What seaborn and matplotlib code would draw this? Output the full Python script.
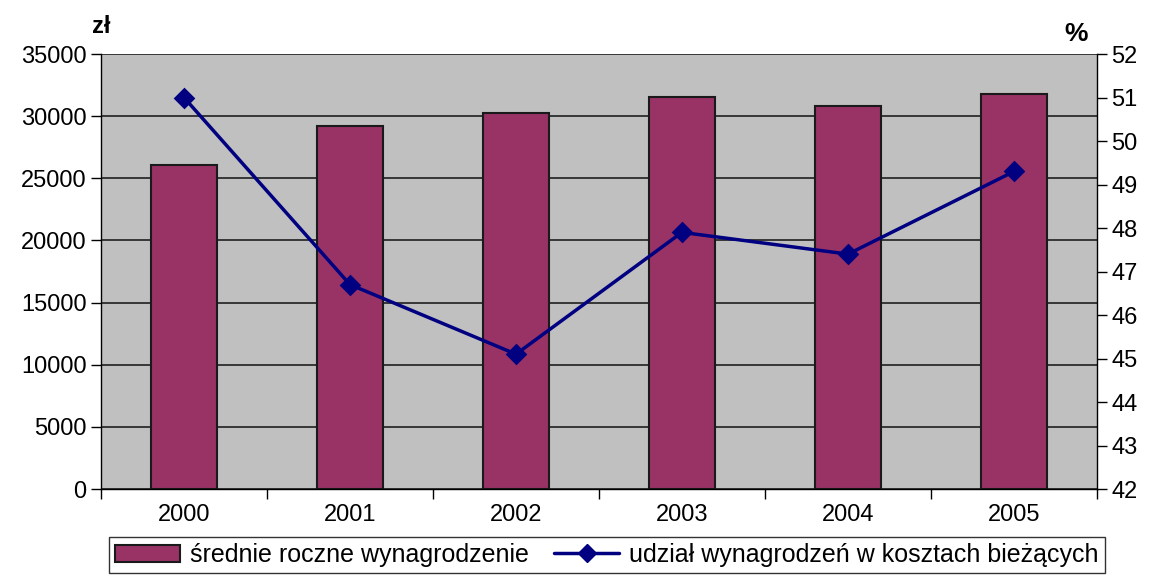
import numpy as np
import pandas as pd
import seaborn as sns
import matplotlib.pyplot as plt
from matplotlib.lines import Line2D
from matplotlib.patches import Patch

years = ['2000', '2001', '2002', '2003', '2004', '2005']
salary = [26100, 29200, 30250, 31550, 30850, 31800]
share = [51.0, 46.7, 45.1, 47.9, 47.4, 49.3]

bar_color = '#993366'
line_color = '#000080'

sns.set_theme(style='white')
plt.rcParams['font.family'] = ['Liberation Sans', 'DejaVu Sans']
plt.rcParams['text.color'] = 'black'
plt.rcParams['xtick.color'] = 'black'
plt.rcParams['ytick.color'] = 'black'

df = pd.DataFrame({'rok': years, 'wyn': salary, 'udz': share})

fig = plt.figure(figsize=(11.49, 5.79), dpi=100)
ax = fig.add_axes([0.0879, 0.1554, 0.8668, 0.7513])
ax.set_facecolor('#C0C0C0')

sns.barplot(data=df, x='rok', y='wyn', ax=ax, color=bar_color, width=0.4,
            edgecolor='#1a1a1a', linewidth=1.5, saturation=1)
ax.set_ylim(0, 35000)
ax.set_xlim(-0.5, 5.5)
ax.set_yticks(np.arange(0, 35001, 5000))
ax.yaxis.grid(True, color='#202020', linewidth=1.2)
ax.set_axisbelow(True)
ax.set_xlabel('')
ax.set_ylabel('')
# category separators as major ticks, year labels as minor ticks
ax.set_xticks(np.arange(-0.5, 6, 1), minor=False)
ax.set_xticklabels([])
ax.set_xticks(np.arange(6), minor=True)
ax.set_xticklabels(years, minor=True)
ax.tick_params(axis='x', which='major', bottom=True, direction='out', length=7, width=1)
ax.tick_params(axis='x', which='minor', bottom=True, length=0, labelsize=17, pad=11)
ax.tick_params(axis='y', left=True, direction='out', length=7, width=1, labelsize=17)
for side in ['left', 'bottom']:
    ax.spines[side].set_color('black')
    ax.spines[side].set_linewidth(1)
ax.spines['top'].set_visible(False)
ax.spines['right'].set_visible(False)

ax2 = ax.twinx()
sns.pointplot(data=df, x='rok', y='udz', ax=ax2, color=line_color, markers='D',
              markersize=9, linewidth=2.5)
ax2.set_ylim(42, 52)
ax2.set_xlim(-0.5, 5.5)
ax2.set_yticks(np.arange(42, 53, 1))
ax2.set_ylabel('')
ax2.set_xlabel('')
ax2.tick_params(axis='y', right=True, direction='out', length=7, width=1, labelsize=17)
ax2.tick_params(axis='x', bottom=False, labelbottom=False)
ax2.spines['right'].set_color('black')
ax2.spines['right'].set_linewidth(1)
for side in ['top', 'left', 'bottom']:
    ax2.spines[side].set_visible(False)

fig.text(0.080, 0.943, 'zł', fontsize=17, fontweight='bold')
fig.text(0.926, 0.93, '%', fontsize=19, fontweight='bold')

handles = [Patch(facecolor=bar_color, edgecolor='#1a1a1a', linewidth=1.5),
           Line2D([0], [0], color=line_color, linewidth=2.5, marker='D', markersize=9)]
labels = ['średnie roczne wynagrodzenie', 'udział wynagrodzeń w kosztach bieżących']
leg = fig.legend(handles, labels, loc='lower left', bbox_to_anchor=(0.084, -0.012),
                 ncol=2, frameon=True, fontsize=18, handlelength=2.6,
                 handletextpad=0.4, columnspacing=1.0, borderpad=0.25,
                 fancybox=False, edgecolor='black')
leg.get_frame().set_linewidth(1)

fig.savefig('out.png', dpi=100)
